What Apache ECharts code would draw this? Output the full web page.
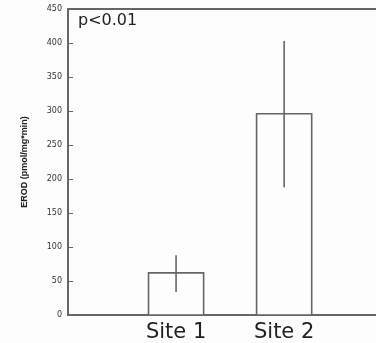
<!DOCTYPE html>
<html><head><meta charset="utf-8">
<script src="https://cdn.jsdelivr.net/npm/echarts@6/dist/echarts.min.js"></script>
<style>html,body{margin:0;padding:0;background:#fff}#c{width:376px;height:343px}</style>
</head><body><div id="c"></div>
<script>
const categories = ['Site 1', 'Site 2'];
const means = [62, 296];
const lower = [34, 188];
const upper = [88, 403];
const yTicks = [0, 50, 100, 150, 200, 250, 300, 350, 400, 450];

const data = categories.map((c, i) => [i + 1, means[i], lower[i], upper[i]]);
const chart = echarts.init(document.getElementById('c'));
const lineColor = '#666';
chart.setOption({
  backgroundColor: '#fdfdfd',
  animation: false,
  grid: { left: 68, right: 0, top: 9, bottom: 27 },
  xAxis: [{
    type: 'value', min: 0, max: 2.85, interval: 1,
    axisLine: { show: true, lineStyle: { color: lineColor, width: 2 } },
    axisTick: { show: false }, splitLine: { show: false },
    axisLabel: {
      showMaxLabel: false,
      formatter: v => (v >= 1 && v <= categories.length) ? categories[v - 1] : '',
      fontFamily: 'DejaVu Sans', fontSize: 21, color: '#222', margin: 7
    }
  }, {
    type: 'value', position: 'top', min: 0, max: 2.85,
    axisLine: { show: true, onZero: false, lineStyle: { color: lineColor, width: 2 } },
    axisTick: { show: false }, axisLabel: { show: false }, splitLine: { show: false }
  }],
  yAxis: {
    type: 'value', min: yTicks[0], max: yTicks[yTicks.length - 1], interval: 50,
    name: 'EROD (pmol/mg*min)', nameLocation: 'middle', nameGap: 39,
    nameTextStyle: { fontFamily: 'Liberation Sans, Arial', fontSize: 9, fontWeight: 'bold', color: '#222' },
    axisLine: { show: true, lineStyle: { color: lineColor, width: 2 } },
    axisTick: { show: true, inside: true, length: 5, lineStyle: { color: lineColor } },
    splitLine: { show: false },
    axisLabel: { fontFamily: 'DejaVu Sans', fontSize: 8, color: '#333', margin: 6 }
  },
  graphic: [{
    type: 'text', left: 78, top: 13,
    style: { text: 'p<0.01', font: '16px DejaVu Sans', fill: '#222' }
  }],
  series: [{
    type: 'custom',
    data: data,
    encode: { x: 0, y: [1, 2, 3] },
    renderItem: function (params, api) {
      const x = api.value(0);
      const base = api.coord([x, 0]);
      const top = api.coord([x, api.value(1)]);
      const lo = api.coord([x, api.value(2)]);
      const hi = api.coord([x, api.value(3)]);
      const w = api.size([0.51, 0])[0];
      return {
        type: 'group',
        children: [{
          type: 'rect',
          shape: { x: base[0] - w / 2, y: top[1], width: w, height: base[1] - top[1] },
          style: { fill: '#fdfdfd', stroke: lineColor, lineWidth: 1.6 }
        }, {
          type: 'line',
          shape: { x1: lo[0], y1: lo[1], x2: hi[0], y2: hi[1] },
          style: { stroke: lineColor, lineWidth: 1.6 }
        }]
      };
    }
  }]
});
</script></body></html>
